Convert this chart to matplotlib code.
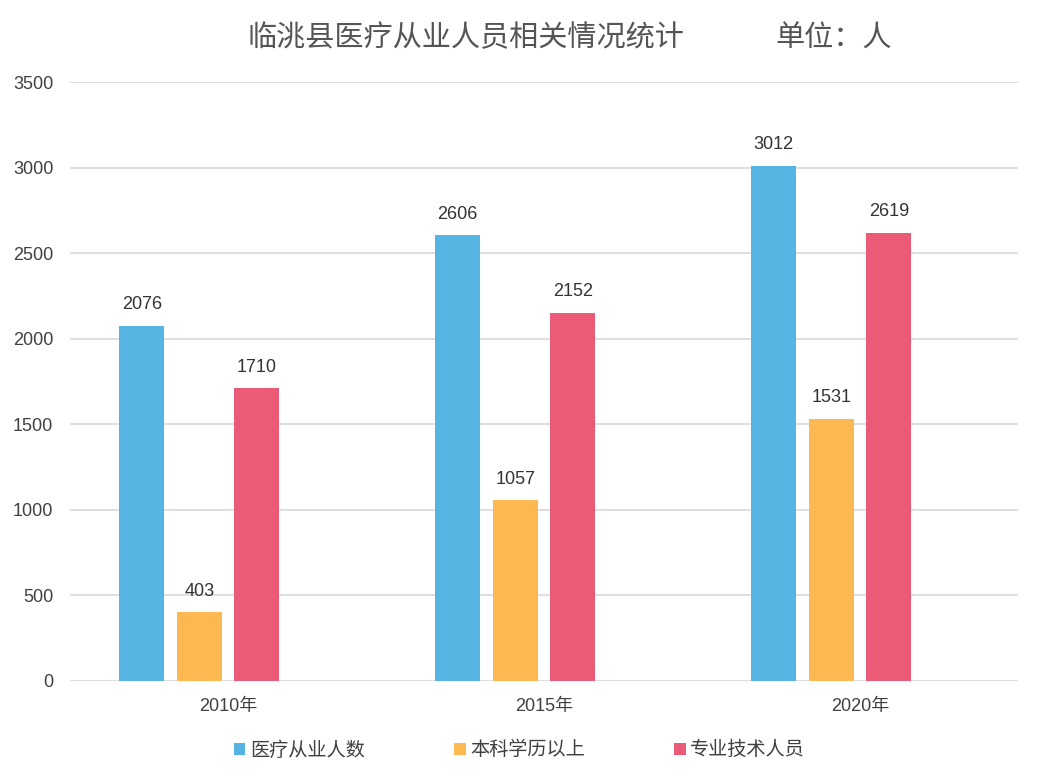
import numpy as np
import matplotlib
matplotlib.use('Agg')
import matplotlib.pyplot as plt

plt.rcParams['font.family'] = ['Liberation Sans', 'Noto Sans CJK SC', 'DejaVu Sans']

years = ['2010年', '2015年', '2020年']
series = ['医疗从业人数', '本科学历以上', '专业技术人员']
medical = [2076, 2606, 3012]
bachelor = [403, 1057, 1531]
technical = [1710, 2152, 2619]
colors = ['#56B4E3', '#FDB951', '#EB5A76']

fig = plt.figure(figsize=(10.42, 7.82), dpi=100)
ax = fig.add_axes([0.0672, 0.1292, 0.9098, 0.7659])

x = np.arange(len(years))
step = 0.182
width = 0.142
offsets = [-1.5 * step, -0.5 * step, 0.5 * step]
for vals, off, c, name in zip([medical, bachelor, technical], offsets, colors, series):
    bars = ax.bar(x + off, vals, width, color=c, label=name, zorder=3)
    for b, v in zip(bars, vals):
        ax.annotate(str(v), (b.get_x() + b.get_width() / 2, v), xytext=(0, 9),
                    textcoords='offset points', ha='center', va='bottom',
                    fontsize=13, color='#333333')

ax.set_xlim(-0.5, 2.5)
ax.set_ylim(0, 3500)
ax.set_yticks(range(0, 3501, 500))
ax.set_xticks(x)
ax.set_xticklabels(years)
ax.tick_params(axis='both', length=0, labelsize=13, colors='#404040')
ax.tick_params(axis='y', pad=12)
ax.tick_params(axis='x', pad=12)
ax.grid(axis='y', color='#D9D9D9', linewidth=1.2, zorder=0)
for s in ax.spines.values():
    s.set_visible(False)

fig.text(0.238, 0.951, '临洮县医疗从业人员相关情况统计', fontsize=21,
         family=['Noto Sans CJK SC'], color='#555555', va='center')
fig.text(0.744, 0.951, '单位：人', fontsize=21,
         family=['Noto Sans CJK SC'], color='#555555', va='center')

leg = fig.legend(loc='center', bbox_to_anchor=(0.4986, 0.041), ncol=3, frameon=False,
                 prop={'family': ['Noto Sans CJK SC'], 'size': 13.8},
                 handlelength=0.6, handleheight=0.6, handletextpad=0.25,
                 columnspacing=4.65, labelcolor='#404040')

fig.savefig('out.png', dpi=100)
